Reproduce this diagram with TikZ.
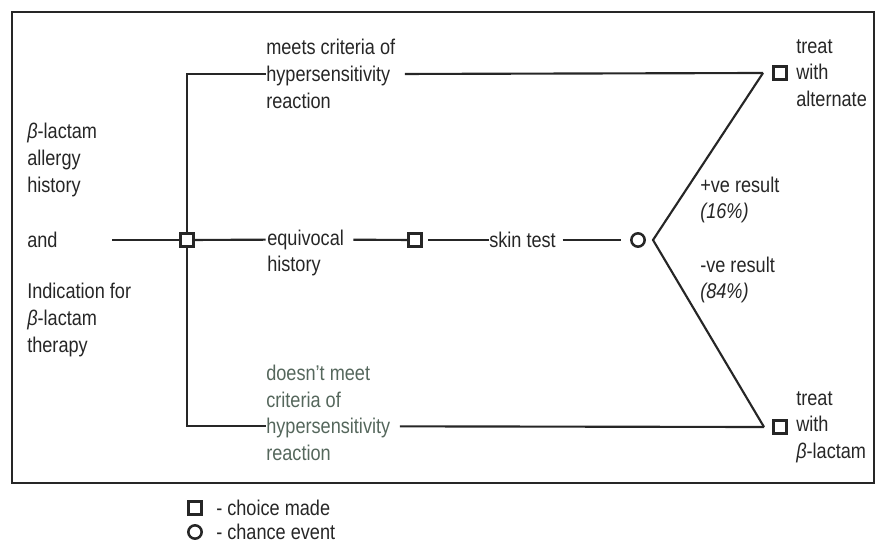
\documentclass[tikz,border=0pt]{standalone}
\usepackage{fontspec}
\setmainfont{Liberation Sans}[FakeStretch=0.85]
\usetikzlibrary{positioning}

\definecolor{inkgray}{HTML}{262626}
\definecolor{leafgreen}{HTML}{55675C}

\tikzset{
  choice/.style={draw=inkgray, line width=1.9pt, minimum size=10pt, inner sep=0pt},
  chance/.style={circle, draw=inkgray, line width=1.9pt, minimum size=10pt, inner sep=0pt},
  lbl/.style={anchor=west, align=left, inner sep=0pt, text=inkgray},
  branch/.style={draw=inkgray, line width=1.6pt},
}

\begin{document}
\begin{tikzpicture}[x=0.75pt, y=-0.75pt,
    every node/.append style={font=\fontsize{16pt}{20pt}\selectfont}]
  \useasboundingbox (0,0) rectangle (881,545);

  % outer frame
  \draw[inkgray, line width=1.6pt] (12,12) rectangle (874,483);

  % history on the left
  \node[lbl] (allergy) at (27,160) {\textit{β}-lactam\\allergy\\history};
  \node[lbl] (and) at (27,240) {and};
  \node[lbl] (indic) at (27,320) {Indication for\\\textit{β}-lactam\\therapy};

  % decision nodes
  \coordinate (start) at (112,240);
  \node[choice] (root) at (187,240) {};
  \node[choice] (second) at (415,240) {};
  \node[chance] (test) at (638,240) {};
  \coordinate (fork) at (653,240);
  \coordinate (upcorner) at (763,73);
  \coordinate (lowcorner) at (764,427);
  \node[choice] (alt) at (780,73) {};
  \node[choice] (blac) at (780,427) {};

  % branch labels
  \node[lbl] (meets) at (266,74) {meets criteria of\\hypersensitivity\\reaction};
  \node[lbl] (equiv) at (267,253) {equivocal\\history};
  \node[lbl] (skin) at (489,240) {skin test};
  \node[lbl, text=leafgreen] (nomeet) at (266,413)
    {doesn't meet\\criteria of\\hypersensitivity\\reaction};
  \node[lbl] (posres) at (700,200) {+ve result\\\textit{(16\%)}};
  \node[lbl] (negres) at (700,280) {-ve result\\\textit{(84\%)}};
  \node[lbl] (altlbl) at (796,73) {treat\\with\\alternate};
  \node[lbl] (blaclbl) at (796,427) {treat\\with\\\textit{β}-lactam};

  \coordinate (nomeetin) at ([yshift=-10pt]nomeet.west);
  \coordinate (nomeetout) at ([yshift=-10pt]nomeet.east);
  \coordinate (equivin) at ([yshift=10pt]equiv.west);
  \coordinate (equivout) at ([yshift=10pt]equiv.east);

  % connectors
  \draw[branch] (start) -- (root);
  \draw[branch] (root) |- (meets.west);
  \draw[branch, shorten >=1pt] (root) -- (equivin);
  \draw[branch] (root) |- (nomeetin);
  \draw[branch, shorten <=7pt] (meets.east) -- (upcorner);
  \draw[branch, shorten <=7pt] (nomeetout) -- (lowcorner);
  \draw[branch, shorten <=7pt] (equivout) -- (second);
  \draw[branch, shorten <=4pt] (second) -- (skin.west);
  \draw[branch, shorten <=5pt, shorten >=7pt] (skin.east) -- (test);
  \draw[branch] (upcorner) -- (fork) -- (lowcorner);

  % key
  \node[choice] (keysq) at (195,508) {};
  \node[lbl] (keysqlbl) at (216,508) {- choice made};
  \node[chance] (keyci) at (195,532) {};
  \node[lbl] (keycilbl) at (216,532) {- chance event};
\end{tikzpicture}
\end{document}
